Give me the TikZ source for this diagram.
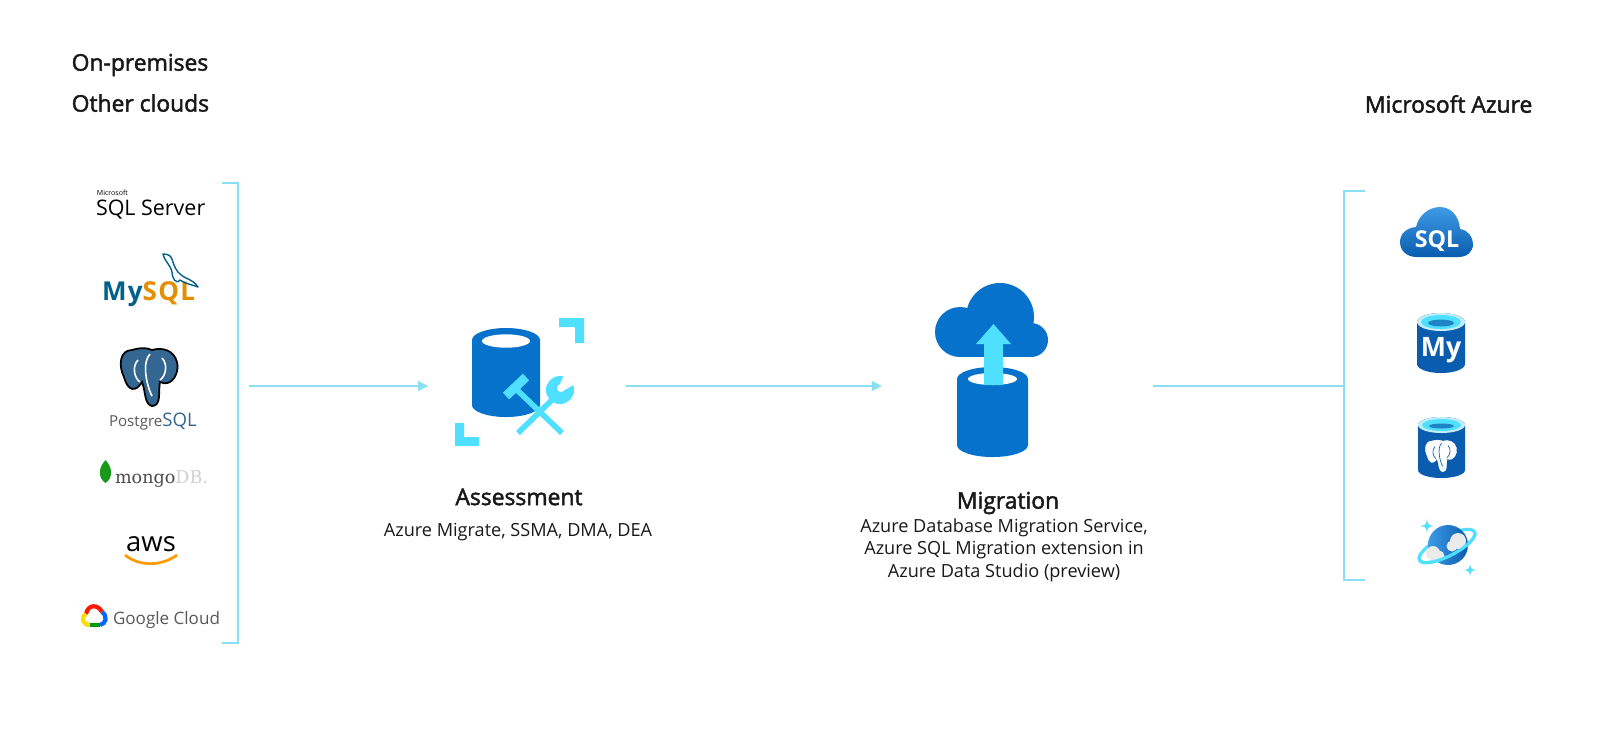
\documentclass[tikz,border=0pt]{standalone}
\usepackage{fontspec}
\setmainfont{Open Sans}
\newfontfamily\headfont[FakeBold=2]{Open Sans}
\newfontfamily\mongofont{DejaVu Serif}
\usetikzlibrary{arrows.meta}
\definecolor{azblue}{HTML}{0672CB}
\definecolor{azdeep}{HTML}{0A5CAE}
\definecolor{azsky}{HTML}{3F9BE6}
\definecolor{azcyan}{HTML}{50E0FF}
\definecolor{azrim}{HTML}{C4EDF7}
\definecolor{azline}{HTML}{8ADFF5}
\definecolor{pgblue}{HTML}{336791}
\definecolor{myblue}{HTML}{00618A}
\definecolor{myorange}{HTML}{E48E00}
\tikzset{
 link/.style={draw=azline,line width=0.6pt},
 linkarrow/.style={link,-{Triangle[length=2.85pt,width=2.7pt]}},
 heading/.style={inner sep=0,font=\fontsize{6.5}{7}\headfont,text=black!90},
 caption/.style={inner sep=0,font=\fontsize{5.15}{6.4}\selectfont,text=black!90,align=center},
 slot/.style={inner sep=0,outer sep=0}
}
% cylinder: centre x, top ellipse y, rx, ry, bottom y, colour
\newcommand{\cyl}[6]{
 \fill[#6] (#1-#3,#2) -- (#1+#3,#2)
  -- (#1+#3,#5) arc[start angle=0,end angle=180,x radius=#3,y radius=#4] -- cycle;
 \fill[#6] (#1,#2) ellipse[x radius=#3,y radius=#4];
}
% small cylinder with a pale rim and a cyan top
\newcommand{\azcyl}[5]{
 \cyl{#1}{#2}{#3}{#4}{#5}{azdeep}
 \fill[azrim] (#1,#2) ellipse[x radius=#3,y radius=#4];
 \fill[azcyan] (#1,#2) ellipse[x radius=#3-4,y radius=#4-2];
 \fill[azdeep!70!azcyan] (#1,#2+1) ellipse[x radius=#3-11,y radius=#4-5.5];
}
\newcommand{\sparkle}[3]{
 \fill[azcyan] (#1,#2-#3) .. controls (#1+1,#2-1) .. (#1+#3,#2) .. controls (#1+1,#2+1) .. (#1,#2+#3)
  .. controls (#1-1,#2+1) .. (#1-#3,#2) .. controls (#1-1,#2-1) .. (#1,#2-#3) -- cycle;
}
% elephant outline, drawn around (0,0) = top left of a 60x60 box
\newcommand{\elephant}[3]{
 \fill[#1,#2] (12,2) .. controls (0,2) and (-2,17) .. (4,29)
  .. controls (8,44) and (16,44) .. (22,34) .. controls (26,44) and (24,56) .. (32,58)
  .. controls (42,58) and (38,42) .. (40,34) .. controls (52,40) and (60,24) .. (57,14)
  .. controls (54,2) and (42,-1) .. (32,2) .. controls (26,-1) and (18,0) .. (12,2) -- cycle;
 \draw[#3] (18,12) .. controls (12,18) and (14,30) .. (20,34);
 \draw[#3] (30,6) .. controls (22,14) and (26,36) .. (32,48);
 \draw[#3] (42,10) .. controls (48,16) and (46,28) .. (40,32);
}
\begin{document}
\begin{tikzpicture}[x=0.01cm,y=-0.01cm]
 \useasboundingbox (0,0) rectangle (1600,753);
 \fill[white] (0,0) rectangle (1600,753);

 % titles
 \node[heading,anchor=west] (onprem) at (71,65) {On-premises};
 \node[heading,anchor=west] (clouds) at (71,103) {Other clouds};
 \node[heading,anchor=east] (azure) at (1533,104) {Microsoft Azure};

 % brackets
 \draw[link] (222,183) -- (238,183) -- (238,643) -- (222,643);
 \draw[link] (1365,191) -- (1344,191) -- (1344,580) -- (1365,580);

 % connectors
 \coordinate (srcside) at (249,386);
 \coordinate (dstside) at (1344,386);
 \node[slot,minimum width=1.975cm] (assess) at (527,386) {};
 \node[slot,minimum width=2.71cm] (migr) at (1017.5,386) {};
 \draw[linkarrow] (srcside) -- (assess);
 \draw[linkarrow] (assess) -- (migr);
 \draw[link] (migr) -- (dstside);

 % assessment icon
 \cyl{506}{340}{34}{12}{405}{azblue}
 \fill[white] (506,341) ellipse[x radius=24,y radius=6.7];
 \fill[azcyan] (559,318) -- (584,318) -- (584,343) -- (575,343) -- (575,327) -- (559,327) -- cycle;
 \fill[azcyan] (455,423) -- (464,423) -- (464,437) -- (479,437) -- (479,446) -- (455,446) -- cycle;
 \draw[azcyan,line width=1.6pt] (515,388) -- (562,433);
 \draw[azcyan,line width=1.6pt] (518,433) -- (557,395);
 \draw[azcyan,line width=2.6pt] (506,396) -- (526,377);
 \fill[azcyan] (560,390) circle[radius=14];
 \fill[white] (561,388) circle[radius=4];
 \fill[white] (559,386) -- (566,371) -- (580,381) -- (563,391) -- cycle;

 % migration icon
 \fill[azblue] (960,357) -- (1031,357) -- (1031,320) -- (960,320) -- cycle;
 \fill[azblue] (960,332) circle[radius=25];
 \fill[azblue] (1000,317) circle[radius=34];
 \fill[azblue] (1031,340) circle[radius=17];
 \cyl{992.5}{379}{35.5}{12}{445}{azblue}
 \fill[white] (992.5,379) ellipse[x radius=24.5,y radius=6];
 \fill[azcyan] (984,385) -- (984,344) -- (976,344) -- (993.5,324) -- (1011,344) -- (1003,344) -- (1003,385) -- cycle;

 % labels
 \node[heading] (assesshead) at (519,497) {Assessment};
 \node[caption] (assesstools) at (518,532) {Azure Migrate, SSMA, DMA, DEA};
 \node[heading] (migrhead) at (1008,503) {Migration};
 \node[caption,anchor=north] (migrtools) at (1004,518) {Azure Database Migration Service,\\Azure SQL Migration extension in\\Azure Data Studio (preview)};

 % sql server
 \node[slot,anchor=west,font=\fontsize{2}{2}\selectfont] (mssqlsmall) at (97,193) {Microsoft};
 \node[slot,anchor=west,font=\fontsize{6.1}{7}\selectfont] (mssql) at (96,210) {SQL Server};

 % mysql
 \node[slot,anchor=west,font=\fontsize{7.4}{8}\selectfont\bfseries\addfontfeature{LetterSpace=5}] (mysql) at (102,294) {\textcolor{myblue}{My}\textcolor{myorange}{SQL}};
 \draw[myblue,line width=0.4pt,line join=round] (163,254) .. controls (175,254) and (170,262) .. (178,272)
  .. controls (185,280) and (192,278) .. (198,287) .. controls (190,284) and (186,284) .. (180,280)
  .. controls (176,285) and (172,278) .. (172,272) .. controls (170,264) and (165,262) .. (163,254) -- cycle;

 % postgres
 \begin{scope}[shift={(120,348)}]
  \elephant{pgblue}{draw=black,line width=0.5pt}{white,line width=0.45pt}
 \end{scope}
 \node[slot,anchor=west,font=\fontsize{4.3}{5}\selectfont] (pgsql) at (109,422)
  {\textcolor{black!65}{Postgre}\textcolor{pgblue}{\fontsize{5.3}{6}\selectfont SQL}};

 % mongodb
 \fill[green!55!black!90] (105.5,460) .. controls (113,468) and (113,478) .. (105.5,483)
  .. controls (98,478) and (98,468) .. (105.5,460) -- cycle;
 \node[slot,anchor=west,font=\fontsize{5}{5}\mongofont] (mongo) at (115,479)
  {\textcolor{black!70}{mongo}\textcolor{black!18}{DB.}};

 % aws
 \node[slot,font=\fontsize{7.8}{8}\selectfont] (aws) at (151,544) {aws};
 \draw[orange!80!yellow,line width=0.75pt] (125,555) .. controls (140,567) and (162,566) .. (177,555);

 % google cloud
 \draw[line width=1.2pt,red!80!orange] (86,614) .. controls (88,604) and (98,604) .. (102,612);
 \draw[line width=1.2pt,blue!60!cyan] (102,612) .. controls (108,616) and (106,624) .. (100,625);
 \draw[line width=1.2pt,yellow!80!orange] (86,614) .. controls (80,618) and (83,625) .. (90,625);
 \draw[line width=1.2pt,green!60!black] (90,625) -- (100,625);
 \node[slot,anchor=west,font=\fontsize{4.85}{6}\selectfont,text=black!65] (gcloud) at (113,620) {Google Cloud};

 % azure sql
 \shade[top color=azsky,bottom color=azdeep] (1417,257) .. controls (1406,257) and (1400,250) .. (1400,242)
  .. controls (1400,234) and (1406,228) .. (1416,227) .. controls (1419,214) and (1430,207) .. (1440,207)
  .. controls (1451,207) and (1459,216) .. (1460,229) .. controls (1468,230) and (1473,237) .. (1473,244)
  .. controls (1473,252) and (1467,257) .. (1458,257) -- cycle;
 \node[slot,text=white,font=\fontsize{6.6}{8}\selectfont\bfseries] (azsql) at (1437,241) {SQL};

 % azure mysql
 \azcyl{1441}{322}{24}{9}{364}
 \node[slot,text=white,font=\fontsize{7.6}{8}\selectfont\bfseries] (azmy) at (1441,350) {My};

 % azure postgres
 \azcyl{1441.5}{425}{23.5}{8}{470}
 \begin{scope}[shift={(1425,440)},scale=0.55]
  \elephant{white}{draw=white,line width=0.1pt}{azdeep,line width=0.2pt}
 \end{scope}

 % cosmos
 \draw[azcyan,line width=0.9pt,rotate around={27:(1447,546)}] (1447,546) ellipse[x radius=31,y radius=10];
 \shade[left color=azsky,right color=azdeep] (1448,545) circle[radius=20];
 \fill[white!92!black] (1433,553) circle[radius=7];
 \fill[white!92!black] (1439,556) circle[radius=5.5];
 \fill[white!92!black] (1458,541) circle[radius=8];
 \fill[white!92!black] (1452,546) circle[radius=5.5];
 \draw[azcyan,line width=0.9pt,rotate around={27:(1447,546)}] (1478,546) arc[start angle=0,end angle=180,x radius=31,y radius=10];
 \sparkle{1427}{526}{7}
 \sparkle{1470}{570}{6}
\end{tikzpicture}
\end{document}
